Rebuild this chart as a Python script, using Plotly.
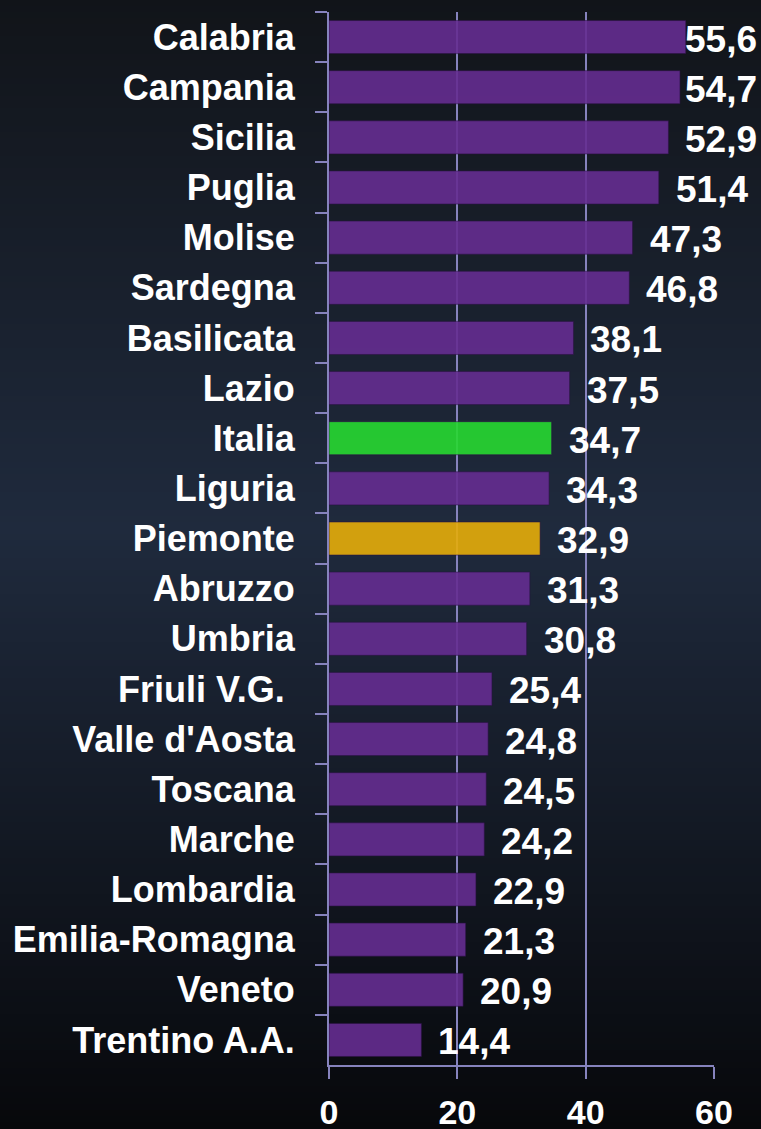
import plotly.graph_objects as go

regions = ["Calabria", "Campania", "Sicilia", "Puglia", "Molise", "Sardegna",
           "Basilicata", "Lazio", "Italia", "Liguria", "Piemonte", "Abruzzo",
           "Umbria", "Friuli V.G. ", "Valle d'Aosta", "Toscana", "Marche",
           "Lombardia", "Emilia-Romagna", "Veneto", "Trentino A.A."]
values = [55.6, 54.7, 52.9, 51.4, 47.3, 46.8, 38.1, 37.5, 34.7, 34.3, 32.9,
          31.3, 30.8, 25.4, 24.8, 24.5, 24.2, 22.9, 21.3, 20.9, 14.4]
x_ticks = [0, 20, 40, 60]

W, H = 761, 1129
PLOT_L, PLOT_R, PLOT_T, PLOT_B = 329, 714.5, 12, 1065
ML, MT, MR, MB = PLOT_L, PLOT_T, W - PLOT_R, H - PLOT_B
PURPLE = "#652D91"
GREEN = "#27D931"
GOLD = "#E6AD0A"
LINE = "#8683BD"
FONT = "Liberation Sans, Arial, sans-serif"

colors = [GREEN if r == "Italia" else GOLD if r == "Piemonte" else PURPLE for r in regions]

fig = go.Figure(go.Bar(
    x=values, y=regions, orientation="h",
    marker=dict(color=colors, line=dict(color="rgba(45,18,70,0.6)", width=1)),
    opacity=0.9, width=0.66, hoverinfo="skip",
))

# value labels
for r, v in zip(regions, values):
    fig.add_annotation(
        x=min(v, 52.9), y=r, xref="x", yref="y", text=f"{v:.1f}".replace(".", ","),
        showarrow=False, xanchor="left", yanchor="middle", xshift=15, yshift=-2,
        font=dict(family=FONT, size=37, color="white", weight="bold"),
    )

# background gradient (vertical), stops in pixels
stops = [(0, (17, 20, 25)), (530, (31, 42, 61)), (1129, (7, 8, 11))]
def col_at(p):
    for (p0, c0), (p1, c1) in zip(stops[:-1], stops[1:]):
        if p0 <= p <= p1:
            t = (p - p0) / (p1 - p0)
            return "rgb(%d,%d,%d)" % tuple(round(a + (b - a) * t) for a, b in zip(c0, c1))
    return "rgb(%d,%d,%d)" % stops[-1][1]

pw = W - ML - MR
ph = H - MT - MB
step = 6
shapes = []
for p in range(0, H, step):
    y_top = (H - MB - p) / ph
    y_bot = (H - MB - (p + step + 1)) / ph
    shapes.append(dict(type="rect", xref="paper", yref="paper",
                       x0=-ML / pw - 0.05, x1=(W - ML) / pw + 0.05, y0=y_bot, y1=y_top,
                       fillcolor=col_at(p + step / 2), line=dict(width=0), layer="below"))

fig.update_layout(
    width=W, height=H, autosize=False,
    margin=dict(l=ML, r=MR, t=MT, b=MB, pad=0, autoexpand=False),
    paper_bgcolor="#0d0f14", plot_bgcolor="rgba(0,0,0,0)",
    shapes=shapes, showlegend=False,
    font=dict(family=FONT, size=36, color="white", weight="bold"),
    xaxis=dict(range=[0, 60], tickvals=x_ticks, ticktext=[str(t) for t in x_ticks],
               showgrid=True, gridcolor=LINE, gridwidth=2, zeroline=False,
               showline=True, linecolor=LINE, linewidth=2,
               ticks="outside", ticklen=12, tickwidth=2, tickcolor=LINE,
               ticklabelstandoff=4, automargin=False,
               tickfont=dict(family=FONT, size=34, color="white", weight="bold"),
               fixedrange=True),
    yaxis=dict(categoryorder="array", categoryarray=regions, autorange="reversed",
               type="category", tickson="boundaries", showgrid=False, zeroline=False,
               showline=True, linecolor=LINE, linewidth=2,
               ticks="outside", ticklen=12, tickwidth=2, tickcolor=LINE,
               ticklabelstandoff=25, automargin=False,
               tickfont=dict(family=FONT, size=36, color="white", weight="bold"),
               fixedrange=True),
)

fig.write_html(
    "out.html",
    config={"displayModeBar": False, "staticPlot": True},
    post_script="document.body.style.margin='0';document.body.style.overflow='hidden';"
                "document.documentElement.style.background='#0d0f14';",
)
